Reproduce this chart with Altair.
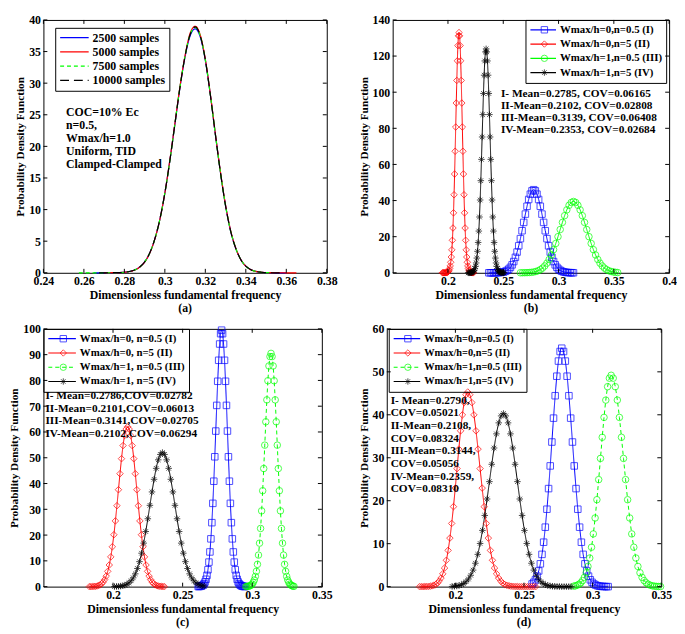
import altair as alt
import pandas as pd

FONT = "Liberation Serif"
ASTER = "M-1,0L1,0M0,-1L0,1M-0.7,-0.7L0.7,0.7M-0.7,0.7L0.7,-0.7"
BLUE, RED, GREEN, BLACK = "#0000ff", "#ff0000", "#00ff00", "#000000"
SOLID = [1, 0]
X_TITLE = "Dimensionless fundamental frequency"
Y_TITLE = "Probability Density Function"

# ---------------- panel (a) ----------------
a_x = [0.2575, 0.26, 0.2625, 0.265, 0.2675, 0.27, 0.2725, 0.275, 0.2775, 0.28, 0.2825, 0.285, 0.2875, 0.29,
       0.2925, 0.295, 0.2975, 0.30, 0.3025, 0.305, 0.3075, 0.31, 0.3125, 0.315, 0.3175, 0.32, 0.3225, 0.325,
       0.3275, 0.33, 0.3325, 0.335, 0.3375, 0.34, 0.3425, 0.345, 0.3475, 0.35, 0.3525, 0.355, 0.3575, 0.36,
       0.3625, 0.365]
a_2500 = [None, None, None, 0, 0, 0, 0.01, 0.02, 0.04, 0.09, 0.21, 0.44, 0.9, 1.72, 3.12, 5.3, 8.4, 12.6, 17.8,
          23.6, 29.4, 34.2, 37.5, 38.6, 37.3, 33.6, 28.1, 21.8, 15.8, 10.6, 6.6, 3.9, 2.1, 1.05, 0.5, 0.22, 0.09,
          0.03, 0.01, 0, 0, 0, None, None]
a_5000 = [None, None, None, None, None, 0, 0.01, 0.02, 0.04, 0.09, 0.2, 0.42, 0.88, 1.69, 3.08, 5.28, 8.38, 12.6,
          17.9, 23.7, 29.5, 34.4, 37.9, 39.0, 37.6, 33.8, 28.2, 21.9, 15.9, 10.7, 6.7, 3.95, 2.12, 1.06, 0.5, 0.22,
          0.1, 0.04, 0.02, 0.01, 0.01, 0, 0, 0]
a_7500 = [0, 0, 0, 0, 0, 0, 0.01, 0.02, 0.04, 0.09, 0.2, 0.43, 0.89, 1.7, 3.1, 5.3, 8.4, 12.6, 17.8, 23.6, 29.4,
          34.3, 37.7, 38.8, 37.5, 33.7, 28.1, 21.8, 15.8, 10.6, 6.6, 3.9, 2.1, 1.05, 0.49, 0.21, 0.09, 0.03, 0.01,
          None, None, None, None, None]
a_10000 = [None, None, None, None, 0, 0, 0.01, 0.02, 0.04, 0.09, 0.2, 0.43, 0.89, 1.71, 3.11, 5.31, 8.41, 12.6,
           17.8, 23.6, 29.4, 34.3, 37.7, 38.9, 37.5, 33.7, 28.1, 21.8, 15.8, 10.6, 6.6, 3.9, 2.1, 1.05, 0.49, 0.21,
           0.09, 0.03, 0.01, 0, 0, None, None, None]
a_labels = ["2500 samples", "5000 samples", "7500 samples", "10000 samples"]
a_notes = ["COC=10% Ec", "n=0.5,", "Wmax/h=1.0", "Uniform, TID", "Clamped-Clamped"]
a_xticks = [0.24, 0.26, 0.28, 0.30, 0.32, 0.34, 0.36, 0.38]
a_yticks = [0, 5, 10, 15, 20, 25, 30, 35, 40]

# ---------------- panel (b) ----------------
b_I_x = [0.2370, 0.2385, 0.2400, 0.2415, 0.2430, 0.2445, 0.2460, 0.2475, 0.2490, 0.2505, 0.2520, 0.2535, 0.2550,
         0.2565, 0.2580, 0.2595, 0.2610, 0.2625, 0.2640, 0.2655, 0.2670, 0.2685, 0.2700, 0.2715, 0.2730, 0.2745,
         0.2760, 0.2775, 0.2790, 0.2805, 0.2820, 0.2835, 0.2850, 0.2865, 0.2880, 0.2895, 0.2910, 0.2925, 0.2940,
         0.2955, 0.2970, 0.2985, 0.3000, 0.3015, 0.3030, 0.3045, 0.3060, 0.3075, 0.3090, 0.3105, 0.3120, 0.3135]
b_I_y = [0, 0, 0, 0.02, 0.03, 0.06, 0.1, 0.18, 0.31, 0.51, 0.83, 1.32, 2.02, 3.02, 4.4, 6.22, 8.57, 11.47, 14.94,
         18.91, 23.29, 27.9, 32.5, 36.83, 40.6, 43.52, 45.37, 46, 45.37, 43.52, 40.6, 36.83, 32.5, 27.9, 23.29,
         18.91, 14.94, 11.47, 8.57, 6.22, 4.4, 3.02, 2.02, 1.32, 0.83, 0.51, 0.31, 0.18, 0.1, 0.06, 0.03, 0.02]
b_II_x = [0.1950, 0.1955, 0.1960, 0.1965, 0.1970, 0.1975, 0.1980, 0.1985, 0.1990, 0.1995, 0.2000, 0.2005, 0.2010,
          0.2015, 0.2020, 0.2025, 0.2030, 0.2035, 0.2040, 0.2045, 0.2050, 0.2055, 0.2060, 0.2065, 0.2070, 0.2075,
          0.2080, 0.2085, 0.2090, 0.2095, 0.2100, 0.2105, 0.2110, 0.2115, 0.2120, 0.2125, 0.2130, 0.2135, 0.2140,
          0.2145, 0.2150, 0.2155, 0.2160, 0.2165, 0.2170, 0.2175, 0.2180, 0.2185, 0.2190, 0.2195, 0.2200, 0.2205,
          0.2210, 0.2215, 0.2220, 0.2225, 0.2230]
b_II_y = [0, 0, 0, 0, 0, 0, 0.05, 0.09, 0.16, 0.29, 0.51, 0.88, 1.48, 2.41, 3.8, 5.84, 8.74, 12.7, 18.0, 24.8,
          33.2, 43.2, 54.7, 67.3, 80.7, 94.0, 106.5, 117.4, 125.8, 131.2, 133, 131.2, 125.8, 117.4, 106.5, 94.0,
          80.7, 67.3, 54.7, 43.2, 33.2, 24.8, 18.0, 12.7, 8.74, 5.84, 3.8, 2.41, 1.48, 0.88, 0.51, 0.29, 0.16,
          0.09, 0.05, 0, 0]
b_III_x = [0.2655, 0.2675, 0.2695, 0.2715, 0.2735, 0.2755, 0.2775, 0.2795, 0.2815, 0.2835, 0.2855, 0.2875,
           0.2895, 0.2915, 0.2935, 0.2955, 0.2975, 0.2995, 0.3015, 0.3035, 0.3055, 0.3075, 0.3095, 0.3115, 0.3135,
           0.3155, 0.3175, 0.3195, 0.3215, 0.3235, 0.3255, 0.3275, 0.3295, 0.3315, 0.3335, 0.3355, 0.3375, 0.3395,
           0.3415, 0.3435, 0.3455, 0.3475, 0.3495, 0.3515, 0.3535]
b_III_y = [0.01, 0.03, 0.05, 0.09, 0.15, 0.26, 0.44, 0.71, 1.13, 1.73, 2.6, 3.78, 5.34, 7.36, 9.85, 12.83, 16.24,
           20.0, 23.96, 27.91, 31.63, 34.86, 37.37, 38.95, 39.5, 38.95, 37.37, 34.86, 31.63, 27.91, 23.96, 20.0,
           16.24, 12.83, 9.85, 7.36, 5.34, 3.78, 2.6, 1.73, 1.13, 0.71, 0.44, 0.26, 0.15]
b_IV_x = [0.2183, 0.2189, 0.2195, 0.2201, 0.2207, 0.2213, 0.2219, 0.2225, 0.2231, 0.2237, 0.2243, 0.2249, 0.2255,
          0.2261, 0.2267, 0.2273, 0.2279, 0.2285, 0.2291, 0.2297, 0.2303, 0.2309, 0.2315, 0.2321, 0.2327, 0.2333,
          0.2339, 0.2345, 0.2351, 0.2357, 0.2363, 0.2369, 0.2375, 0.2381, 0.2387, 0.2393, 0.2399, 0.2405, 0.2411,
          0.2417, 0.2423, 0.2429, 0.2435, 0.2441, 0.2447, 0.2453, 0.2459, 0.2465, 0.2471, 0.2477, 0.2483, 0.2489,
          0.2495, 0.2501, 0.2507]
b_IV_y = [0, 0, 0, 0.04, 0.08, 0.15, 0.27, 0.48, 0.82, 1.38, 2.24, 3.55, 5.44, 8.15, 11.9, 16.8, 23.1, 30.9, 40.3,
          51.0, 62.8, 75.2, 87.6, 99.3, 109.4, 117.3, 122.3, 124, 122.3, 117.3, 109.4, 99.3, 87.6, 75.2, 62.8,
          51.0, 40.3, 30.9, 23.1, 16.8, 11.9, 8.15, 5.44, 3.55, 2.24, 1.38, 0.82, 0.48, 0.27, 0.15, 0.08, 0.04,
          0, 0, 0]
b_labels = ["Wmax/h=0,n=0.5 (I)", "Wmax/h=0,n=5 (II)", "Wmax/h=1,n=0.5 (III)", "Wmax/h=1,n=5 (IV)"]
b_notes = ["I- Mean=0.2785, COV=0.06165", "II-Mean=0.2102, COV=0.02808",
           "III-Mean=0.3139, COV=0.06408", "IV-Mean=0.2353, COV=0.02684"]
b_xticks = [0.2, 0.25, 0.3, 0.35, 0.4]
b_yticks = [0, 20, 40, 60, 80, 100, 120, 140]

# ---------------- panel (c) ----------------
c_I_x = [0.2612, 0.2619, 0.2626, 0.2633, 0.2640, 0.2647, 0.2654, 0.2661, 0.2668, 0.2675, 0.2682, 0.2689, 0.2696,
         0.2703, 0.2710, 0.2717, 0.2724, 0.2731, 0.2738, 0.2745, 0.2752, 0.2759, 0.2766, 0.2773, 0.2780, 0.2787,
         0.2794, 0.2801, 0.2808, 0.2815, 0.2822, 0.2829, 0.2836, 0.2843, 0.2850, 0.2857, 0.2864, 0.2871, 0.2878,
         0.2885, 0.2892, 0.2899, 0.2906, 0.2913, 0.2920, 0.2927, 0.2934, 0.2941, 0.2948]
c_I_y = [0.03, 0.06, 0.12, 0.22, 0.39, 0.66, 1.1, 1.8, 2.85, 4.37, 6.54, 9.51, 13.46, 18.54, 24.82, 32.31, 40.9,
         50.38, 60.35, 70.31, 79.67, 87.81, 94.13, 98.13, 99.5, 98.13, 94.13, 87.81, 79.67, 70.31, 60.35, 50.38,
         40.9, 32.31, 24.82, 18.54, 13.46, 9.51, 6.54, 4.37, 2.85, 1.8, 1.1, 0.66, 0.39, 0.22, 0.12, 0.06, 0.03]
c_II_x = [0.1830, 0.1841, 0.1852, 0.1863, 0.1874, 0.1885, 0.1896, 0.1907, 0.1918, 0.1929, 0.1940, 0.1951, 0.1962,
          0.1973, 0.1984, 0.1995, 0.2006, 0.2017, 0.2028, 0.2039, 0.2050, 0.2061, 0.2072, 0.2083, 0.2094, 0.2105,
          0.2116, 0.2127, 0.2138, 0.2149, 0.2160, 0.2171, 0.2182, 0.2193, 0.2204, 0.2215, 0.2226, 0.2237, 0.2248,
          0.2259, 0.2270, 0.2281, 0.2292, 0.2303, 0.2314, 0.2325, 0.2336, 0.2347, 0.2358, 0.2369]
c_II_y = [0, 0.02, 0.04, 0.07, 0.14, 0.24, 0.41, 0.69, 1.12, 1.77, 2.72, 4.07, 5.93, 8.39, 11.55, 15.46, 20.13,
          25.49, 31.39, 37.6, 43.81, 49.64, 54.72, 58.65, 61.14, 62, 61.14, 58.65, 54.72, 49.64, 43.81, 37.6,
          31.39, 25.49, 20.13, 15.46, 11.55, 8.39, 5.93, 4.07, 2.72, 1.77, 1.12, 0.69, 0.41, 0.24, 0.14, 0.07,
          0.04, 0.02]
c_III_x = [0.29550, 0.29625, 0.29700, 0.29775, 0.29850, 0.29925, 0.30000, 0.30075, 0.30150, 0.30225, 0.30300,
           0.30375, 0.30450, 0.30525, 0.30600, 0.30675, 0.30750, 0.30825, 0.30900, 0.30975, 0.31050, 0.31125,
           0.31200, 0.31275, 0.31350, 0.31425, 0.31500, 0.31575, 0.31650, 0.31725, 0.31800, 0.31875, 0.31950,
           0.32025, 0.32100, 0.32175, 0.32250, 0.32325, 0.32400, 0.32475, 0.32550, 0.32625, 0.32700, 0.32775,
           0.32850, 0.32925, 0.33000]
c_III_y = [0.03, 0.06, 0.11, 0.2, 0.35, 0.6, 1.0, 1.64, 2.59, 3.97, 5.95, 8.65, 12.24, 16.86, 22.57, 29.39, 37.2,
           45.82, 54.89, 63.95, 72.46, 79.87, 85.61, 89.25, 90.5, 89.25, 85.61, 79.87, 72.46, 63.95, 54.89, 45.82,
           37.2, 29.39, 22.57, 16.86, 12.24, 8.65, 5.95, 3.97, 2.59, 1.64, 1.0, 0.6, 0.35, 0.2, 0.11]
c_IV_x = [0.2010, 0.2025, 0.2040, 0.2055, 0.2070, 0.2085, 0.2100, 0.2115, 0.2130, 0.2145, 0.2160, 0.2175, 0.2190,
          0.2205, 0.2220, 0.2235, 0.2250, 0.2265, 0.2280, 0.2295, 0.2310, 0.2325, 0.2340, 0.2355, 0.2370, 0.2385,
          0.2400, 0.2415, 0.2430, 0.2445, 0.2460, 0.2475, 0.2490, 0.2505, 0.2520, 0.2535, 0.2550, 0.2565, 0.2580,
          0.2595, 0.2610, 0.2625, 0.2640, 0.2655]
c_IV_y = [0.03, 0.06, 0.11, 0.2, 0.35, 0.58, 0.94, 1.49, 2.28, 3.42, 4.97, 7.04, 9.69, 12.97, 16.88, 21.38, 26.33,
          31.54, 36.74, 41.64, 45.89, 49.19, 51.28, 52, 51.28, 49.19, 45.89, 41.64, 36.74, 31.54, 26.33, 21.38,
          16.88, 12.97, 9.69, 7.04, 4.97, 3.42, 2.28, 1.49, 0.94, 0.58, 0.35, 0.2]
c_labels = ["Wmax/h=0, n=0.5 (I)", "Wmax/h=0, n=5 (II)", "Wmax/h=1, n=0.5 (III)", "Wmax/h=1, n=5 (IV)"]
c_notes = ["I- Mean=0.2786,COV=0.02782", "II-Mean=0.2101,COV=0.06013",
           "III-Mean=0.3141,COV=0.02705", "IV-Mean=0.2102,COV=0.06294"]
c_xticks = [0.2, 0.25, 0.3, 0.35]
c_yticks = [0, 10, 20, 30, 40, 50, 60, 70, 80, 90, 100]

# ---------------- panel (d) ----------------
d_I_x = [0.2559, 0.2571, 0.2583, 0.2595, 0.2607, 0.2619, 0.2631, 0.2643, 0.2655, 0.2667, 0.2679, 0.2691, 0.2703,
         0.2715, 0.2727, 0.2739, 0.2751, 0.2763, 0.2775, 0.2788, 0.2801, 0.2814, 0.2827, 0.2840, 0.2853, 0.2866,
         0.2879, 0.2892, 0.2905, 0.2918, 0.2931, 0.2944, 0.2957, 0.2970, 0.2983, 0.2996, 0.3009, 0.3022, 0.3035,
         0.3048, 0.3061, 0.3074, 0.3087, 0.3100, 0.3113]
d_I_y = [0.62, 1.0, 1.59, 2.44, 3.65, 5.31, 7.51, 10.34, 13.84, 18.02, 22.82, 28.1, 33.66, 39.22, 44.44, 48.98,
         52.5, 54.73, 55.5, 54.73, 52.5, 48.98, 44.44, 39.22, 33.66, 28.1, 22.82, 18.02, 13.84, 10.34, 7.51, 5.31,
         3.65, 2.44, 1.59, 1.0, 0.62, 0.37, 0.21, 0.12, 0.07, 0.04, 0.02, 0, 0]
d_II_x = [0.1739, 0.1752, 0.1765, 0.1778, 0.1791, 0.1804, 0.1817, 0.1830, 0.1843, 0.1856, 0.1869, 0.1882, 0.1895,
          0.1908, 0.1921, 0.1934, 0.1947, 0.1960, 0.1973, 0.1986, 0.1999, 0.2012, 0.2025, 0.2038, 0.2051, 0.2064,
          0.2077, 0.2090, 0.2105, 0.2120, 0.2135, 0.2150, 0.2165, 0.2180, 0.2195, 0.2210, 0.2225, 0.2240, 0.2255,
          0.2270, 0.2285, 0.2300, 0.2315, 0.2330, 0.2345, 0.2360, 0.2375, 0.2390, 0.2405, 0.2420, 0.2435, 0.2450,
          0.2465, 0.2480, 0.2495, 0.2510, 0.2525, 0.2540, 0.2555, 0.2570, 0.2585]
d_II_y = [0, 0, 0, 0.02, 0.03, 0.05, 0.1, 0.18, 0.3, 0.5, 0.82, 1.3, 1.99, 2.98, 4.33, 6.13, 8.44, 11.3, 14.71,
          18.62, 22.94, 27.47, 32.01, 36.27, 39.98, 42.85, 44.67, 45.3, 44.67, 42.85, 39.98, 36.27, 32.01, 27.47,
          22.94, 18.62, 14.71, 11.3, 8.44, 6.13, 4.33, 2.98, 1.99, 1.3, 0.82, 0.5, 0.3, 0.18, 0.1, 0.05, 0.03,
          0.02, 0, 0, 0, 0, 0, 0, 0, 0, 0]
d_III_x = [0.2862, 0.2875, 0.2888, 0.2901, 0.2914, 0.2927, 0.2940, 0.2953, 0.2966, 0.2979, 0.2992, 0.3005,
           0.3018, 0.3031, 0.3044, 0.3057, 0.3070, 0.3083, 0.3096, 0.3109, 0.3122, 0.3135, 0.3150, 0.3165, 0.3180,
           0.3195, 0.3210, 0.3225, 0.3240, 0.3255, 0.3270, 0.3285, 0.3300, 0.3315, 0.3330, 0.3345, 0.3360, 0.3375,
           0.3390, 0.3405, 0.3420, 0.3435, 0.3450, 0.3465, 0.3480, 0.3495]
d_III_y = [0.11, 0.19, 0.33, 0.55, 0.89, 1.41, 2.16, 3.23, 4.7, 6.66, 9.17, 12.27, 15.98, 20.23, 24.91, 29.84,
           34.76, 39.39, 43.42, 46.54, 48.52, 49.2, 48.52, 46.54, 43.42, 39.39, 34.76, 29.84, 24.91, 20.23, 15.98,
           12.27, 9.17, 6.66, 4.7, 3.23, 2.16, 1.41, 0.89, 0.55, 0.33, 0.19, 0.11, 0.06, 0.03, 0.02]
d_IV_x = [0.1976, 0.1993, 0.2010, 0.2027, 0.2044, 0.2061, 0.2078, 0.2095, 0.2112, 0.2129, 0.2146, 0.2163, 0.2180,
          0.2197, 0.2214, 0.2231, 0.2248, 0.2265, 0.2282, 0.2299, 0.2316, 0.2333, 0.2350, 0.2367, 0.2384, 0.2401,
          0.2418, 0.2435, 0.2452, 0.2469, 0.2486, 0.2503, 0.2520, 0.2537, 0.2554, 0.2571, 0.2588, 0.2605, 0.2622,
          0.2639, 0.2656, 0.2673, 0.2690, 0.2707, 0.2724, 0.2741, 0.2758, 0.2775, 0.2792, 0.2809, 0.2826, 0.2843]
d_IV_y = [0.05, 0.09, 0.16, 0.27, 0.45, 0.73, 1.15, 1.77, 2.65, 3.85, 5.45, 7.51, 10.05, 13.09, 16.57, 20.4,
          24.44, 28.48, 32.27, 35.56, 38.12, 39.74, 40.3, 39.74, 38.12, 35.56, 32.27, 28.48, 24.44, 20.4, 16.57,
          13.09, 10.05, 7.51, 5.45, 3.85, 2.65, 1.77, 1.15, 0.73, 0.45, 0.27, 0.16, 0.09, 0.05, 0.03, 0.01, 0, 0,
          0, 0, 0]
d_labels = ["Wmax/h=0,n=0.5 (I)", "Wmax/h=0,n=5 (II)", "Wmax/h=1,n=0.5 (III)", "Wmax/h=1,n=5  (IV)"]
d_notes = ["I- Mean=0.2790,", "COV=0.05021", "II-Mean=0.2108,", "COV=0.08324",
           "III-Mean=0.3144,", "COV=0.05056", "IV-Mean=0.2359,", "COV=0.08310"]
d_xticks = [0.2, 0.25, 0.3, 0.35]
d_yticks = [0, 10, 20, 30, 40, 50, 60]

KEYS = ["I", "II", "III", "IV"]
COLORS = [BLUE, RED, GREEN, BLACK]
SHAPES = ["square", "diamond", "circle", ASTER]


def panel(series, labels, dashes, xdom, xticks, ydom, yticks, W, H, caption,
          leg_x, leg_y, sym_len, leg_font, notes, note_x, note_y, note_lh, note_font,
          markers=True, line_w=1.0):
    rows = []
    for (xs_, ys_), lab, key in zip(series, labels, KEYS):
        for xv, yv in zip(xs_, ys_):
            rows.append({"x": xv, "y": yv, "series": lab, "key": key})
    df = pd.DataFrame(rows)
    xsc = alt.Scale(domain=xdom, nice=False, zero=False)
    ysc = alt.Scale(domain=ydom, nice=False, zero=False)
    xax = alt.Axis(values=xticks, format="~g", title=X_TITLE, ticks=False, domain=False, grid=False,
                   labelPadding=3, titlePadding=3, labelFlush=False, labelOverlap=False)
    yax = alt.Axis(values=yticks, format="d", title=Y_TITLE, ticks=False, domain=False, grid=False,
                   labelPadding=3, titlePadding=3, labelOverlap=False)
    X = alt.X("x:Q", scale=xsc, axis=xax)
    Y = alt.Y("y:Q", scale=ysc, axis=yax)
    common = dict(title=None, orient="none", legendX=leg_x, legendY=leg_y, padding=4, rowPadding=2.5,
                  clipHeight=12, labelFont=FONT, labelFontSize=leg_font, labelFontWeight="bold",
                  labelLimit=400, labelOffset=3)
    line_leg = alt.Legend(symbolType="stroke", symbolSize=sym_len ** 2, symbolStrokeWidth=1.2,
                          strokeColor="black", labelColor="black", zindex=0, **common)
    layers = [alt.Chart(df).mark_line(strokeWidth=line_w, interpolate="monotone").encode(
        x=X, y=Y,
        color=alt.Color("series:N", scale=alt.Scale(domain=labels, range=COLORS), legend=line_leg),
        strokeDash=alt.StrokeDash("series:N", scale=alt.Scale(domain=labels, range=dashes), legend=line_leg),
    )]
    if markers:
        pt_leg = alt.Legend(symbolOffset=sym_len / 2 - 3.3, symbolSize=42, symbolStrokeWidth=1,
                            labelExpr="''", zindex=1, **common)
        layers.append(alt.Chart(df).mark_point(filled=False, strokeWidth=1, size=44).encode(
            x=X, y=Y,
            shape=alt.Shape("key:N", scale=alt.Scale(domain=KEYS, range=SHAPES), legend=pt_leg),
            stroke=alt.Stroke("key:N", scale=alt.Scale(domain=KEYS, range=COLORS), legend=pt_leg),
        ))
    xt = pd.DataFrame({"x": xticks})
    yt = pd.DataFrame({"y": yticks})
    layers += [
        alt.Chart(xt).mark_rule(color="black", strokeWidth=1).encode(x=X, y=alt.value(H), y2=alt.value(H - 4)),
        alt.Chart(xt).mark_rule(color="black", strokeWidth=1).encode(x=X, y=alt.value(0), y2=alt.value(4)),
        alt.Chart(yt).mark_rule(color="black", strokeWidth=1).encode(y=Y, x=alt.value(0), x2=alt.value(4)),
        alt.Chart(yt).mark_rule(color="black", strokeWidth=1).encode(y=Y, x=alt.value(W), x2=alt.value(W - 4)),
    ]
    layers.append(alt.Chart(pd.DataFrame({"t": ["\n".join(notes)]})).mark_text(
        align="left", baseline="top", font=FONT, fontSize=note_font, fontWeight="bold", color="black",
        lineBreak="\n", lineHeight=note_lh).encode(x=alt.value(note_x), y=alt.value(note_y), text="t:N"))
    return alt.layer(*layers).properties(
        width=W, height=H,
        title=alt.TitleParams(text=caption, orient="bottom", frame="group", anchor="middle", offset=3))


pa = panel([(a_x, a_2500), (a_x, a_5000), (a_x, a_7500), (a_x, a_10000)], a_labels,
           [SOLID, SOLID, [4, 3], [9, 5]], [0.24, 0.38], a_xticks, [0, 40], a_yticks,
           288, 257, "(a)", 12, 8, 29, 12, a_notes, 23, 89, 13, 12, markers=False, line_w=1.2)
pb = panel([(b_I_x, b_I_y), (b_II_x, b_II_y), (b_III_x, b_III_y), (b_IV_x, b_IV_y)], b_labels,
           [SOLID, SOLID, SOLID, SOLID], [0.15, 0.4], b_xticks, [0, 140], b_yticks,
           281, 257, "(b)", 135, 0, 26, 11, b_notes, 110, 69, 12.3, 11.5)
pc = panel([(c_I_x, c_I_y), (c_II_x, c_II_y), (c_III_x, c_III_y), (c_IV_x, c_IV_y)], c_labels,
           [SOLID, SOLID, [4, 3], SOLID], [0.15, 0.35], c_xticks, [0, 100], c_yticks,
           283, 262, "(c)", 0, 0, 28, 11, c_notes, 2, 62, 13, 11.5)
pd_ = panel([(d_I_x, d_I_y), (d_II_x, d_II_y), (d_III_x, d_III_y), (d_IV_x, d_IV_y)], d_labels,
            [SOLID, SOLID, [4, 3], SOLID], [0.15, 0.35], d_xticks, [0, 60], d_yticks,
            279, 262, "(d)", 2, 0, 27, 10.5, d_notes, 4, 67, 12.9, 11.5)

RES = dict(color="independent", strokeDash="independent", shape="independent", stroke="independent")
row1 = alt.hconcat(pa, pb, spacing=20).resolve_scale(**RES)
row2 = alt.hconcat(pc, pd_, spacing=25).resolve_scale(**RES)
chart = alt.vconcat(row1, row2, spacing=7).resolve_scale(**RES).properties(padding=0)

chart = chart.configure_view(stroke="black", strokeWidth=1).configure_axis(
    labelFont=FONT, labelFontSize=12, labelFontWeight="bold", labelColor="black",
    titleFont=FONT, titleFontSize=12, titleFontWeight="bold", titleColor="black"
).configure_axisY(titleFontSize=11.5).configure_title(
    font=FONT, fontSize=12, fontWeight="bold", color="black")

chart.save("out.html", embed_options={"renderer": "svg", "actions": False})
